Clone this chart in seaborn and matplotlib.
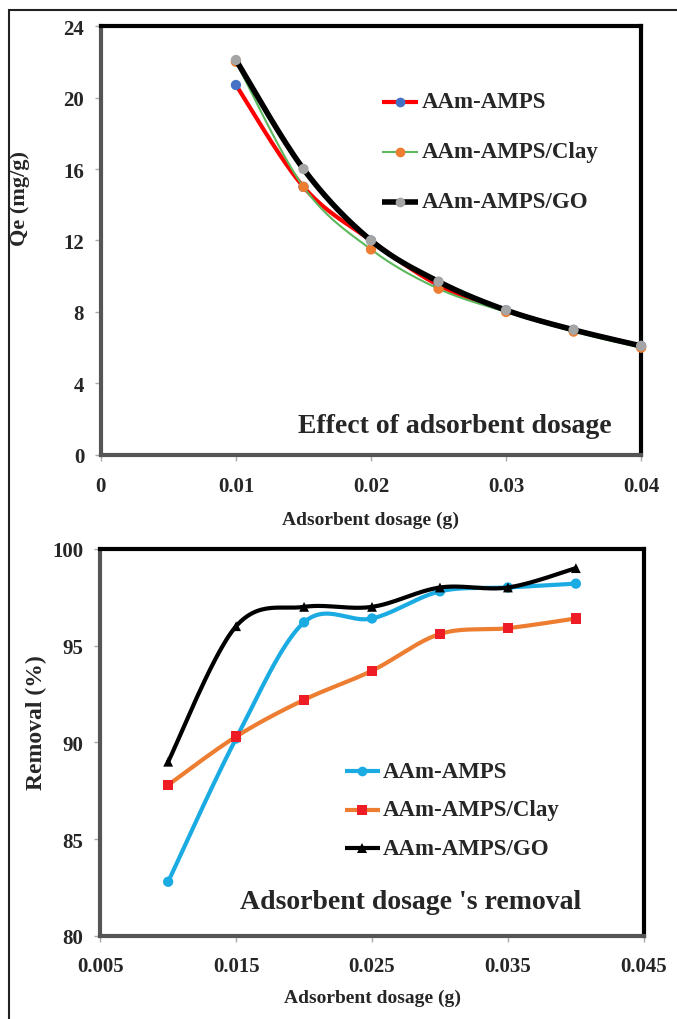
import numpy as np
import pandas as pd
import seaborn as sns
import matplotlib.pyplot as plt
from matplotlib.patches import Rectangle

# --- datos ---
dosis_qe = [0.01, 0.015, 0.02, 0.025, 0.03, 0.035, 0.04]
qe_amps = [20.7, 15.0, 12.0, 9.5, 8.1, 7.0, 6.1]
qe_clay = [22.0, 15.0, 11.5, 9.3, 8.0, 6.9, 6.0]
qe_go = [22.1, 16.0, 12.0, 9.7, 8.1, 7.0, 6.1]

dosis_rem = [0.01, 0.015, 0.02, 0.025, 0.03, 0.035, 0.04]
rem_amps = [82.8, 90.2, 96.2, 96.4, 97.8, 98.0, 98.2]
rem_clay = [87.8, 90.3, 92.2, 93.7, 95.6, 95.9, 96.4]
rem_go = [89.0, 96.0, 97.0, 97.0, 98.0, 98.0, 99.0]

series = ['AAm-AMPS', 'AAm-AMPS/Clay', 'AAm-AMPS/GO']

sns.set_theme(style='white')
plt.rcParams['font.family'] = ['Liberation Serif', 'DejaVu Serif']
plt.rcParams['font.weight'] = 'bold'


def suavizar(x, y, sx, sy, n=30):
    # curva tipo Excel (Bezier / Catmull-Rom) calculada en escala de pantalla
    px = np.asarray(x) * sx
    py = np.asarray(y) * sy
    pts = np.column_stack([px, py])
    pts = np.vstack([pts[0], pts, pts[-1]])
    out = []
    t = np.linspace(0, 1, n)[:, None]
    for i in range(1, len(pts) - 2):
        p0, p1, p2, p3 = pts[i - 1], pts[i], pts[i + 1], pts[i + 2]
        c1 = p1 + (p2 - p0) / 6
        c2 = p2 - (p3 - p1) / 6
        seg = ((1 - t) ** 3) * p1 + 3 * ((1 - t) ** 2) * t * c1 + 3 * (1 - t) * t ** 2 * c2 + t ** 3 * p2
        out.append(seg if i == 1 else seg[1:])
    out = np.vstack(out)
    return out[:, 0] / sx, out[:, 1] / sy


def estilo_ejes(ax, pad_x):
    for lado in ['top', 'right']:
        ax.spines[lado].set_color('black')
        ax.spines[lado].set_linewidth(3)
    for lado in ['left', 'bottom']:
        ax.spines[lado].set_color('#555555')
        ax.spines[lado].set_linewidth(3)
    ax.tick_params(axis='both', which='major', direction='out', length=4, width=1,
                   color='#aaaaaa', labelsize=15, left=True, bottom=True)
    ax.tick_params(axis='y', pad=8)
    ax.tick_params(axis='x', pad=pad_x)
    for lab in ax.get_xticklabels() + ax.get_yticklabels():
        lab.set_fontweight('bold')


fig = plt.figure(figsize=(6.77, 10.2), dpi=100)
fig.patches.append(Rectangle((0.013, -0.1), 1.2, 1.089, transform=fig.transFigure,
                             fill=False, edgecolor='#222222', linewidth=1.5))

# --- panel superior: Qe ---
ax1 = fig.add_axes([0.149, 0.553, 0.798, 0.4205])
ancho1, alto1 = 540, 429
sx1, sy1 = ancho1 / 0.04, alto1 / 24

estilos_qe = [
    (qe_amps, '#FF0000', 3.0, '#4472C4'),
    (qe_clay, '#5CB85C', 1.5, '#ED7D31'),
    (qe_go, 'black', 4.0, '#A5A5A5'),
]
for k, (vals, color_linea, lw, color_marca) in enumerate(estilos_qe):
    xs, ys = suavizar(dosis_qe, vals, sx1, sy1)
    sns.lineplot(x=xs, y=ys, ax=ax1, sort=False, estimator=None, color=color_linea,
                 linewidth=lw, zorder=3 + 2 * k)
    sns.scatterplot(x=dosis_qe, y=vals, ax=ax1, color=color_marca, s=55,
                    edgecolor='none', zorder=4 + 2 * k, clip_on=False)

ax1.set_xlim(0, 0.04)
ax1.set_ylim(0, 24)
ax1.set_xticks([0, 0.01, 0.02, 0.03, 0.04])
ax1.set_xticklabels(['0', '0.01', '0.02', '0.03', '0.04'])
ax1.set_yticks([0, 4, 8, 12, 16, 20, 24])
ax1.set_xlabel('Adsorbent dosage (g)', fontsize=14, fontweight='bold')
ax1.set_ylabel('Qe (mg/g)', fontsize=16, fontweight='bold')
ax1.xaxis.set_label_coords(0.5, -0.13)
ax1.yaxis.set_label_coords(-0.131, 0.6)
estilo_ejes(ax1, 11)

# leyenda superior hecha a mano
for k, (vals, color_linea, lw, color_marca) in enumerate(estilos_qe):
    yy = 0.823 - k * 0.1165
    ax1.plot([0.52, 0.587], [yy, yy], transform=ax1.transAxes, color=color_linea,
             linewidth=lw, solid_capstyle='butt', clip_on=False)
    ax1.plot([0.5535], [yy], transform=ax1.transAxes, marker='o', color=color_marca,
             markersize=7, markeredgewidth=0)
    ax1.text(0.594, yy, series[k], transform=ax1.transAxes, fontsize=16.5,
             fontweight='bold', va='center', ha='left')

ax1.text(0.365, 0.068, 'Effect of adsorbent dosage', transform=ax1.transAxes,
         fontsize=20, fontweight='bold', va='center', ha='left')

# --- panel inferior: remoción ---
ax2 = fig.add_axes([0.148, 0.0814, 0.803, 0.3796])
ancho2, alto2 = 544, 387
sx2, sy2 = ancho2 / 0.04, alto2 / 20

estilos_rem = [
    (rem_amps, '#1AABE3', 'o', 55),
    (rem_clay, '#ED7D31', 's', 55),
    (rem_go, 'black', '^', 50),
]
colores_marca = ['#1AABE3', '#EE1C25', 'black']
for k, (vals, color_linea, marca, tam) in enumerate(estilos_rem):
    xs, ys = suavizar(dosis_rem, vals, sx2, sy2)
    sns.lineplot(x=xs, y=ys, ax=ax2, sort=False, estimator=None, color=color_linea,
                 linewidth=3, zorder=3 + 2 * k)
    sns.scatterplot(x=dosis_rem, y=vals, ax=ax2, color=colores_marca[k], marker=marca,
                    s=tam, edgecolor='none', zorder=4 + 2 * k)

ax2.set_xlim(0.005, 0.045)
ax2.set_ylim(80, 100)
ax2.set_xticks([0.005, 0.015, 0.025, 0.035, 0.045])
ax2.set_xticklabels(['0.005', '0.015', '0.025', '0.035', '0.045'])
ax2.set_yticks([80, 85, 90, 95, 100])
ax2.set_xlabel('Adsorbent dosage (g)', fontsize=14, fontweight='bold')
ax2.set_ylabel('Removal (%)', fontsize=17, fontweight='bold')
ax2.xaxis.set_label_coords(0.5, -0.136)
ax2.yaxis.set_label_coords(-0.097, 0.553)
estilo_ejes(ax2, 10.5)

for k, (vals, color_linea, marca, tam) in enumerate(estilos_rem):
    yy = 0.426 - k * 0.1
    ax2.plot([0.45, 0.515], [yy, yy], transform=ax2.transAxes, color=color_linea,
             linewidth=3, solid_capstyle='butt')
    ax2.plot([0.4825], [yy], transform=ax2.transAxes, marker=marca, color=colores_marca[k],
             markersize=7, markeredgewidth=0)
    ax2.text(0.52, yy, series[k], transform=ax2.transAxes, fontsize=16.5,
             fontweight='bold', va='center', ha='left')

ax2.text(0.257, 0.088, "Adsorbent dosage 's removal", transform=ax2.transAxes,
         fontsize=20, fontweight='bold', va='center', ha='left')

fig.savefig('out.png', dpi=100)
